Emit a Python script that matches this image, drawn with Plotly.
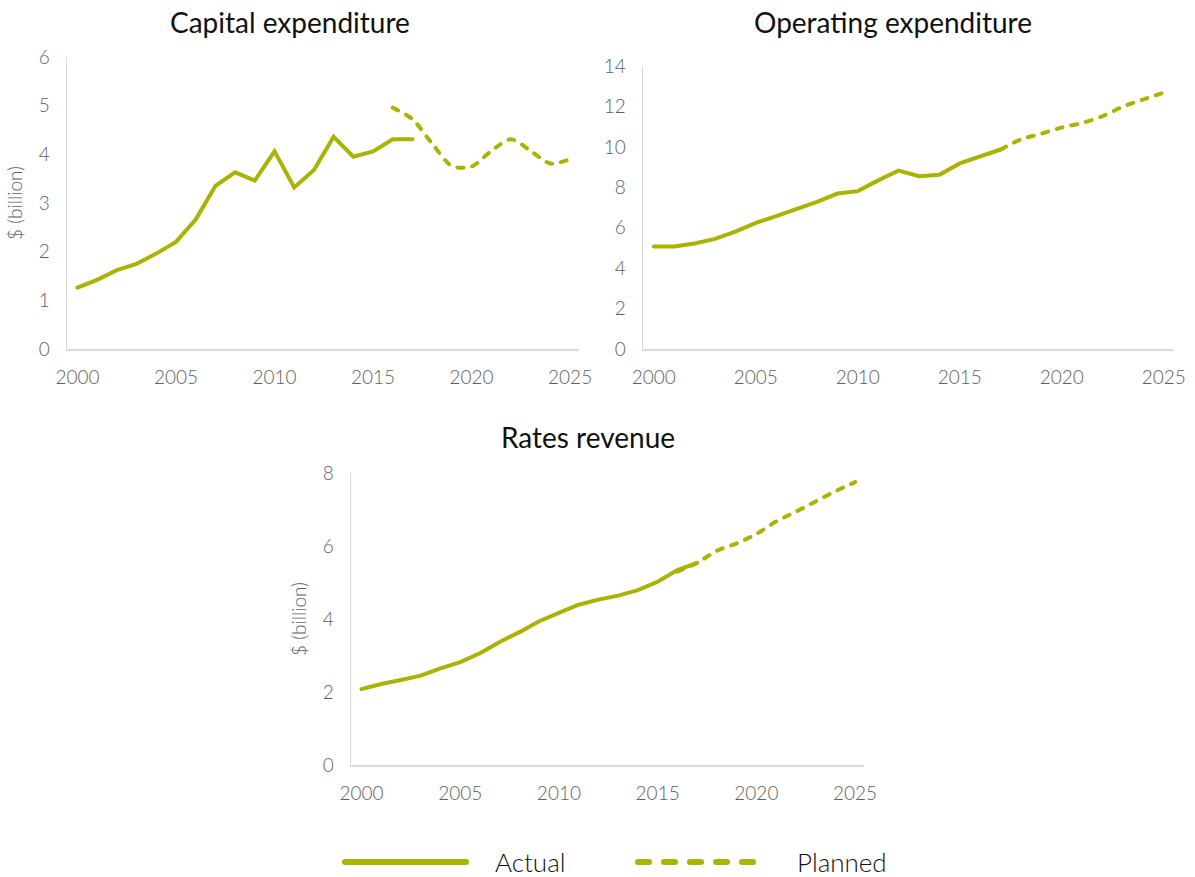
import plotly.graph_objects as go

# ---- data ($ billion) ----
years_actual = list(range(2000, 2018))

capex_actual = [1.26, 1.42, 1.62, 1.75, 1.96, 2.20, 2.66, 3.35, 3.63, 3.46,
                4.06, 3.32, 3.68, 4.36, 3.95, 4.06, 4.31, 4.31]
capex_plan_years = list(range(2016, 2026))
capex_planned = [4.96, 4.72, 4.22, 3.76, 3.75, 4.07, 4.31, 4.07, 3.81, 3.90]

opex_actual = [5.07, 5.07, 5.22, 5.45, 5.81, 6.24, 6.57, 6.90, 7.28, 7.69,
               7.81, 8.34, 8.83, 8.55, 8.62, 9.18, 9.51, 9.87]
opex_plan_years = list(range(2017, 2026))
opex_planned = [9.87, 10.37, 10.65, 10.96, 11.18, 11.52, 11.99, 12.35, 12.68]

rates_actual = [2.08, 2.22, 2.33, 2.45, 2.65, 2.82, 3.06, 3.37, 3.64, 3.94,
                4.17, 4.39, 4.53, 4.64, 4.79, 5.02, 5.34, 5.54]
rates_plan_years = list(range(2016, 2026))
rates_planned = [5.30, 5.54, 5.87, 6.07, 6.33, 6.67, 6.94, 7.22, 7.50, 7.75]

x_ticks = [2000, 2005, 2010, 2015, 2020, 2025]

# ---- styling ----
W, H = 1195, 877
OLIVE = "#A9B300"
GREY_TXT = "#5f5f5f"
AXIS_CLR = "#D9D9D9"
FONT = "Lato"


def px_x(p):
    return p / W


def px_y(p):
    return 1 - p / H


panels = [
    # (title, title centre px, actual, plan years, planned, y range, dtick,
    #  x-domain px, y-domain px, y-title)
    ("Capital expenditure", (290, 22), capex_actual, capex_plan_years,
     capex_planned, [0, 6], 1, (67, 579), (349, 57), "$ (billion)"),
    ("Operating expenditure", (893, 22), opex_actual, opex_plan_years,
     opex_planned, [0, 14], 2, (643, 1173), (349, 66), None),
    ("Rates revenue", (588, 437), rates_actual, rates_plan_years,
     rates_planned, [0, 8], 2, (351, 864), (765, 473), "$ (billion)"),
]

fig = go.Figure()
annotations = []

for i, (title, tpos, actual, p_years, planned, yr, dt, xd, yd,
        ytitle) in enumerate(panels):
    n = "" if i == 0 else str(i + 1)
    xa, ya = "x" + n, "y" + n

    fig.add_trace(go.Scatter(
        x=years_actual, y=actual, mode="lines", xaxis=xa, yaxis=ya,
        line=dict(color=OLIVE, width=4), showlegend=False, hoverinfo="skip"))
    fig.add_trace(go.Scatter(
        x=p_years, y=planned, mode="lines", xaxis=xa, yaxis=ya,
        line=dict(color=OLIVE, width=4, dash="6px,9px", shape="spline",
                  smoothing=0.8),
        showlegend=False, hoverinfo="skip"))

    axis_common = dict(
        showgrid=False, zeroline=False, showline=True, linecolor=AXIS_CLR,
        linewidth=1.5, ticks="", automargin=False,
        tickfont=dict(family=FONT, size=19, color=GREY_TXT, weight=300),
        fixedrange=True)

    fig.update_layout(**{
        "xaxis" + n: dict(
            domain=[px_x(xd[0]), px_x(xd[1])], range=[1999.47, 2025.45],
            tickvals=x_ticks, ticklabelstandoff=11, anchor=ya, **axis_common),
        "yaxis" + n: dict(
            domain=[px_y(yd[0]), px_y(yd[1])], range=yr, dtick=dt,
            ticklabelstandoff=12, anchor=xa,
            title=dict(text=ytitle, standoff=11,
                       font=dict(family=FONT, size=19, color=GREY_TXT,
                                 weight=300)) if ytitle else None,
            **axis_common),
    })

    annotations.append(dict(
        text=title, xref="paper", yref="paper",
        x=px_x(tpos[0]), y=px_y(tpos[1]), xanchor="center", yanchor="middle",
        showarrow=False, font=dict(family=FONT, size=28, color="#111111")))

# ---- legend (drawn as shapes + labels) ----
legend_y = px_y(862)
shapes = [
    dict(type="line", xref="paper", yref="paper", x0=px_x(345), x1=px_x(466),
         y0=legend_y, y1=legend_y, line=dict(color=OLIVE, width=6)),
    dict(type="line", xref="paper", yref="paper", x0=px_x(638), x1=px_x(762),
         y0=legend_y, y1=legend_y,
         line=dict(color=OLIVE, width=6, dash="11px,15px")),
]
for label, xpos in (("Actual", 493), ("Planned", 795)):
    annotations.append(dict(
        text=label, xref="paper", yref="paper", x=px_x(xpos), y=legend_y,
        xanchor="left", yanchor="middle", showarrow=False,
        font=dict(family=FONT, size=26, color="#111111", weight=300)))

fig.update_layout(
    width=W, height=H, autosize=False,
    margin=dict(l=0, r=0, t=0, b=0, pad=0, autoexpand=False),
    paper_bgcolor="white", plot_bgcolor="white",
    annotations=annotations, shapes=shapes, showlegend=False,
)

page_fix = """
document.body.style.margin = '0';
document.body.style.padding = '0';
document.documentElement.style.overflow = 'hidden';
document.querySelectorAll('.scatterlayer path.js-line, .shapelayer path')
  .forEach(function (p) { p.style.strokeLinecap = 'round'; });
"""

fig.write_html("out.html", config={"displayModeBar": False,
                                   "staticPlot": True},
               post_script=page_fix)
